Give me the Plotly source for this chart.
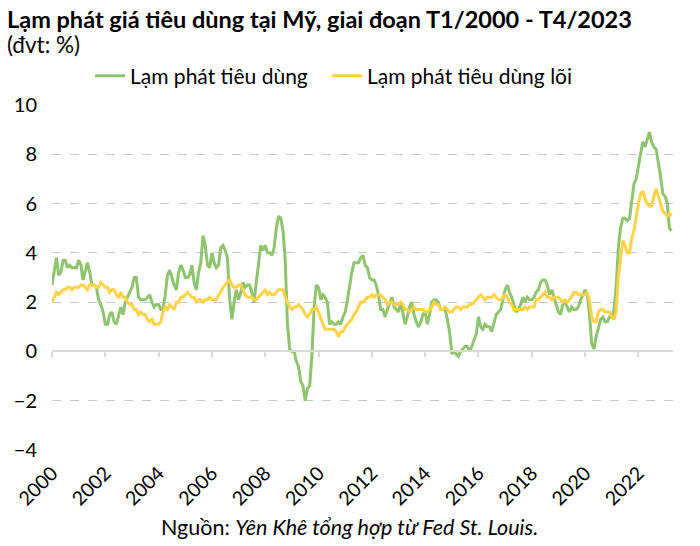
import pandas as pd
import plotly.graph_objects as go

# Monthly YoY inflation, Jan 2000 - Apr 2023 (%)
cpi = [
    2.7, 3.2, 3.8, 3.1, 3.2, 3.7, 3.7, 3.4, 3.5, 3.4, 3.4, 3.4,   # 2000
    3.7, 3.5, 2.9, 3.3, 3.6, 3.2, 2.7, 2.7, 2.6, 2.1, 1.9, 1.6,   # 2001
    1.1, 1.1, 1.5, 1.6, 1.2, 1.1, 1.5, 1.8, 1.5, 2.0, 2.2, 2.4,   # 2002
    2.6, 3.0, 3.0, 2.2, 2.1, 2.1, 2.1, 2.2, 2.3, 2.0, 1.8, 1.9,   # 2003
    1.9, 1.7, 1.7, 2.3, 3.1, 3.3, 3.0, 2.7, 2.5, 3.2, 3.5, 3.3,   # 2004
    3.0, 3.0, 3.1, 3.5, 2.8, 2.5, 3.2, 3.6, 4.7, 4.3, 3.5, 3.4,   # 2005
    4.0, 3.6, 3.4, 3.5, 4.2, 4.3, 4.1, 3.8, 2.1, 1.3, 2.0, 2.5,   # 2006
    2.1, 2.4, 2.8, 2.6, 2.7, 2.7, 2.4, 2.0, 2.8, 3.5, 4.3, 4.1,   # 2007
    4.3, 4.0, 4.0, 3.9, 4.2, 5.0, 5.5, 5.4, 4.9, 3.7, 1.1, 0.1,   # 2008
    0.0, 0.0, -0.4, -0.6, -1.2, -1.4, -2.0, -1.5, -1.4, -0.2, 1.8, 2.7,  # 2009
    2.6, 2.1, 2.3, 2.2, 2.0, 1.1, 1.2, 1.1, 1.1, 1.2, 1.1, 1.4,   # 2010
    1.6, 2.1, 2.7, 3.2, 3.6, 3.6, 3.6, 3.8, 3.9, 3.5, 3.4, 3.0,   # 2011
    2.9, 2.9, 2.7, 2.3, 1.7, 1.7, 1.4, 1.7, 2.0, 2.2, 1.8, 1.7,   # 2012
    1.6, 2.0, 1.5, 1.1, 1.4, 1.8, 2.0, 1.5, 1.2, 1.0, 1.2, 1.5,   # 2013
    1.6, 1.1, 1.5, 2.0, 2.1, 2.1, 2.0, 1.7, 1.7, 1.7, 1.3, 0.8,   # 2014
    -0.1, 0.0, -0.1, -0.2, 0.0, 0.1, 0.2, 0.2, 0.0, 0.2, 0.5, 0.7,  # 2015
    1.4, 1.0, 0.9, 1.1, 1.0, 1.0, 0.8, 1.1, 1.5, 1.6, 1.7, 2.1,   # 2016
    2.5, 2.7, 2.4, 2.2, 1.9, 1.6, 1.7, 1.9, 2.2, 2.0, 2.2, 2.1,   # 2017
    2.1, 2.2, 2.4, 2.5, 2.8, 2.9, 2.9, 2.7, 2.3, 2.5, 2.2, 1.9,   # 2018
    1.6, 1.5, 1.9, 2.0, 1.8, 1.6, 1.8, 1.7, 1.7, 1.8, 2.1, 2.3,   # 2019
    2.5, 2.3, 1.5, 0.3, 0.1, 0.6, 1.0, 1.3, 1.4, 1.2, 1.2, 1.4,   # 2020
    1.4, 1.7, 2.6, 4.2, 5.0, 5.4, 5.4, 5.3, 5.4, 6.2, 6.8, 7.0,   # 2021
    7.5, 7.9, 8.5, 8.3, 8.6, 8.9, 8.5, 8.3, 8.2, 7.7, 7.1, 6.4,   # 2022
    6.3, 6.0, 5.0, 4.9,                                           # 2023
]
core = [
    2.0, 2.2, 2.4, 2.3, 2.4, 2.5, 2.5, 2.6, 2.6, 2.5, 2.6, 2.6,   # 2000
    2.6, 2.7, 2.7, 2.6, 2.5, 2.7, 2.7, 2.7, 2.6, 2.6, 2.8, 2.7,   # 2001
    2.6, 2.6, 2.4, 2.5, 2.5, 2.3, 2.2, 2.4, 2.2, 2.2, 2.0, 1.9,   # 2002
    1.9, 1.7, 1.7, 1.5, 1.6, 1.5, 1.5, 1.3, 1.2, 1.3, 1.1, 1.1,   # 2003
    1.1, 1.2, 1.6, 1.8, 1.7, 1.9, 1.8, 1.7, 2.0, 2.0, 2.2, 2.2,   # 2004
    2.3, 2.4, 2.3, 2.2, 2.2, 2.0, 2.1, 2.1, 2.0, 2.1, 2.1, 2.2,   # 2005
    2.1, 2.1, 2.1, 2.3, 2.4, 2.6, 2.7, 2.8, 2.9, 2.7, 2.6, 2.6,   # 2006
    2.7, 2.7, 2.5, 2.3, 2.2, 2.2, 2.2, 2.1, 2.1, 2.2, 2.3, 2.4,   # 2007
    2.5, 2.3, 2.4, 2.3, 2.3, 2.4, 2.5, 2.5, 2.5, 2.2, 2.0, 1.8,   # 2008
    1.7, 1.8, 1.8, 1.9, 1.8, 1.7, 1.5, 1.4, 1.5, 1.7, 1.7, 1.8,   # 2009
    1.6, 1.3, 1.1, 0.9, 0.9, 0.9, 0.9, 0.9, 0.8, 0.6, 0.8, 0.8,   # 2010
    1.0, 1.1, 1.2, 1.3, 1.5, 1.6, 1.8, 2.0, 2.0, 2.1, 2.2, 2.2,   # 2011
    2.3, 2.2, 2.3, 2.3, 2.3, 2.2, 2.1, 1.9, 2.0, 2.0, 1.9, 1.9,   # 2012
    1.9, 2.0, 1.9, 1.7, 1.7, 1.6, 1.7, 1.8, 1.7, 1.7, 1.7, 1.7,   # 2013
    1.6, 1.6, 1.7, 1.8, 2.0, 1.9, 1.9, 1.7, 1.7, 1.8, 1.7, 1.6,   # 2014
    1.6, 1.7, 1.8, 1.8, 1.7, 1.8, 1.8, 1.8, 1.9, 1.9, 2.0, 2.1,   # 2015
    2.2, 2.3, 2.2, 2.1, 2.2, 2.2, 2.2, 2.3, 2.2, 2.1, 2.1, 2.2,   # 2016
    2.3, 2.2, 2.0, 1.9, 1.7, 1.7, 1.7, 1.7, 1.7, 1.8, 1.7, 1.8,   # 2017
    1.8, 1.8, 2.1, 2.1, 2.2, 2.3, 2.4, 2.2, 2.2, 2.1, 2.2, 2.2,   # 2018
    2.2, 2.1, 2.0, 2.1, 2.0, 2.1, 2.2, 2.4, 2.4, 2.3, 2.3, 2.3,   # 2019
    2.3, 2.4, 2.1, 1.4, 1.2, 1.2, 1.6, 1.7, 1.7, 1.6, 1.6, 1.6,   # 2020
    1.4, 1.3, 1.6, 3.0, 3.8, 4.5, 4.3, 4.0, 4.0, 4.6, 4.9, 5.5,   # 2021
    6.0, 6.4, 6.5, 6.2, 6.0, 5.9, 5.9, 6.3, 6.6, 6.3, 6.0, 5.7,   # 2022
    5.6, 5.5, 5.6, 5.5,                                           # 2023
]
months = pd.date_range("2000-01-01", periods=len(cpi), freq="MS")

series_names = ["Lạm phát tiêu dùng", "Lạm phát tiêu dùng lõi"]
colors = ["#8FC46E", "#FFD247"]
title_line1 = "<b>Lạm phát giá tiêu dùng tại Mỹ, giai đoạn T1/2000 - T4/2023</b>"
title_line2 = "(đvt: %)"
source_text = "Nguồn: <i>Yên Khê tổng hợp từ Fed St. Louis.</i>"

FONT = "Lato"
y_min, y_max = -4, 10
x_range = ["2000-01-01", "2023-04-20"]

fig = go.Figure()
for name, vals, col, lg in zip(series_names, [cpi, core], colors, ["legend", "legend2"]):
    fig.add_trace(go.Scatter(x=months, y=vals, mode="lines", name=name, legend=lg,
                             line=dict(color=col, width=3)))
# helper trace for zero-line axis
fig.add_trace(go.Scatter(x=[months[0]], y=[None], xaxis="x2", showlegend=False,
                         hoverinfo="skip"))

legend_common = dict(orientation="h", xanchor="left", yanchor="middle", y=1.084,
                     font=dict(family=FONT, size=21, color="#000000"),
                     bgcolor="rgba(0,0,0,0)", itemwidth=30)

fig.update_layout(
    width=700, height=546,
    margin=dict(l=52, r=27, t=105, b=96),
    paper_bgcolor="white", plot_bgcolor="white",
    font=dict(family=FONT, size=19, color="#000000"),
    showlegend=True,
    legend=dict(x=0.0612, **legend_common),
    legend2=dict(x=0.4428, **legend_common),
    xaxis=dict(type="date", range=x_range, tickmode="linear", tick0="2000-01-01",
               dtick="M24", tickformat="%Y", tickangle=-45, showgrid=False,
               showline=False, ticks="", zeroline=False, ticklabelstandoff=7,
               tickfont=dict(family=FONT, size=19.5, color="#000000")),
    xaxis2=dict(type="date", range=x_range, overlaying="x", anchor="free",
                position=(0 - y_min) / (y_max - y_min), tickmode="linear",
                tick0="2000-01-01", dtick="M24", showticklabels=False,
                showline=True, linecolor="#D9D9D9", linewidth=2,
                ticks="outside", ticklen=5, tickcolor="#D9D9D9", tickwidth=1.5,
                showgrid=False, zeroline=False),
    yaxis=dict(range=[y_min, y_max], dtick=2, tick0=0, showgrid=True,
               gridcolor="#C8C8C8", griddash="dash", gridwidth=1,
               zeroline=False, showline=False, ticks="", ticklabelstandoff=14,
               tickfont=dict(family=FONT, size=20, color="#000000")),
    annotations=[
        dict(text=title_line1, xref="paper", yref="paper", x=-0.0757, y=1.249,
             xanchor="left", yanchor="middle", showarrow=False,
             font=dict(family=FONT, size=23.5, color="#000000")),
        dict(text=title_line2, xref="paper", yref="paper", x=-0.0757, y=1.174,
             xanchor="left", yanchor="middle", showarrow=False,
             font=dict(family=FONT, size=22.5, color="#000000")),
        dict(text=source_text, xref="paper", yref="paper", x=0.479, y=-0.223,
             xanchor="center", yanchor="middle", showarrow=False,
             font=dict(family=FONT, size=21.5, color="#000000")),
    ],
)

fig.write_html("out.html")
